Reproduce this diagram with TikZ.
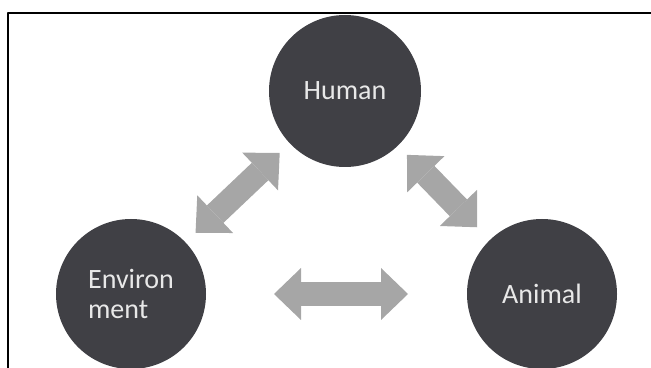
\documentclass[tikz,border=0pt]{standalone}
\usepackage{fontspec}
\setmainfont{Carlito}
\usetikzlibrary{arrows.meta}

\begin{document}
\begin{tikzpicture}[>={Triangle[length=27bp,width=52bp,line width=0pt]},join=bevel,
  ball/.style={circle,fill=c1,text=c3,minimum size=150bp,inner sep=0pt,outer sep=0pt,
    align=left,font=\fontsize{28bp}{30bp}\selectfont},
  link/.style={<->,draw=c2,line width=24bp}]
%%
%%
\definecolor{c1}{rgb}{0.25,0.25,0.27}%
\definecolor{c2}{rgb}{0.65,0.65,0.65}%
\definecolor{c3}{rgb}{0.91,0.91,0.91}%
%
\useasboundingbox (0bp,0bp) rectangle (651bp,368bp);
\clip (0bp,0bp) rectangle (651bp,368bp);
\begin{scope}
  \draw[line width=1.6bp] (8bp,-10bp) -- (8bp,355bp) -- (660bp,355bp);
\end{scope}
  \node (hum) at (345bp,277bp) [ball,minimum size=152bp] {Human};
  \node (env) at (131bp,74bp) [ball] {Environ\\ment};
  \node (ani) at (542bp,74bp) [ball] {Animal};

  \draw[link,shorten <=14bp,shorten >=14bp] (env) -- (hum);
  \draw[link,shorten <=13bp,shorten >=18bp] (hum) -- (ani);
  \draw[link,shorten <=68bp,shorten >=59bp] (env) -- (ani);
%
\end{tikzpicture}
\end{document}
